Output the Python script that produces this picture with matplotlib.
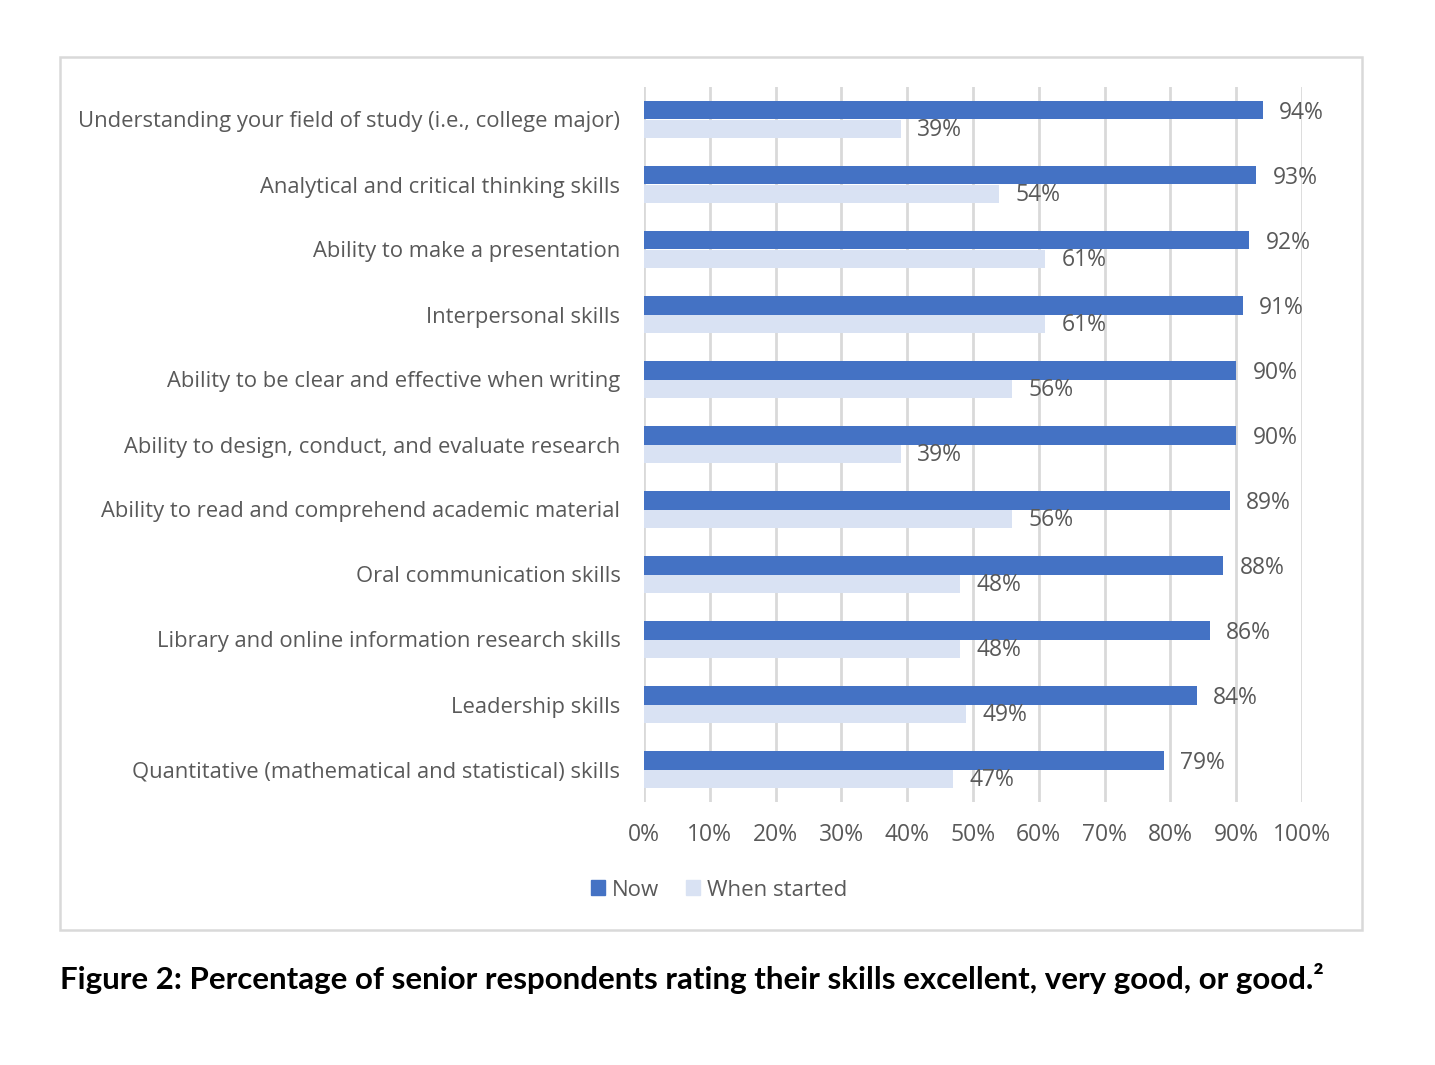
import matplotlib
matplotlib.use("Agg")
import matplotlib.pyplot as plt
from matplotlib.patches import Rectangle, Patch

# data, top to bottom as in the chart
skills = [
    "Understanding your field of study (i.e., college major)",
    "Analytical and critical thinking skills",
    "Ability to make a presentation",
    "Interpersonal skills",
    "Ability to be clear and effective when writing",
    "Ability to design, conduct, and evaluate research",
    "Ability to read and comprehend academic material",
    "Oral communication skills",
    "Library and online information research skills",
    "Leadership skills",
    "Quantitative (mathematical and statistical) skills",
]
now = [94, 93, 92, 91, 90, 90, 89, 88, 86, 84, 79]
when_started = [39, 54, 61, 61, 56, 39, 56, 48, 48, 49, 47]
x_ticks = [0, 10, 20, 30, 40, 50, 60, 70, 80, 90, 100]

NOW_COLOR = "#4472C4"
START_COLOR = "#D9E2F3"
TEXT_COLOR = "#595959"
GRID_COLOR = "#D9D9D9"

plt.rcParams["font.family"] = ["Open Sans", "DejaVu Sans"]

W, H = 1435, 1065
fig = plt.figure(figsize=(W / 100, H / 100), dpi=100)

# light grey frame round the chart area
fig.patches.append(Rectangle((60 / W, 1 - 930 / H), (1362 - 60) / W, (930 - 57) / H,
                             transform=fig.transFigure, fill=False,
                             edgecolor=GRID_COLOR, linewidth=1.8))

ax = fig.add_axes([644 / W, 1 - 802 / H, (1302 - 644) / W, (802 - 87) / H])

bh = 0.29
ypos = list(range(len(skills)))
ax.barh([y - bh / 2 for y in ypos], now, height=bh, color=NOW_COLOR, label="Now", zorder=3)
ax.barh([y + bh / 2 for y in ypos], when_started, height=bh, color=START_COLOR,
        label="When started", zorder=3)

# value labels just past the bar ends
for y, v in zip(ypos, now):
    ax.text(v + 2.5, y - bh / 2 + 0.04, f"{v}%", va="center", ha="left",
            fontsize=16.5, color=TEXT_COLOR)
for y, v in zip(ypos, when_started):
    ax.text(v + 2.5, y + bh / 2 + 0.02, f"{v}%", va="center", ha="left",
            fontsize=16.5, color=TEXT_COLOR)

ax.set_xlim(0, 100)
ax.set_ylim(len(skills) - 0.5, -0.5)
ax.set_xticks(x_ticks)
ax.set_xticklabels([f"{t}%" for t in x_ticks])
ax.set_yticks(ypos)
ax.set_yticklabels(skills)
ax.tick_params(axis="x", length=0, labelsize=16.5, labelcolor=TEXT_COLOR, pad=15)
ax.tick_params(axis="y", length=0, labelsize=15.8, labelcolor=TEXT_COLOR, pad=17)
ax.xaxis.grid(True, color=GRID_COLOR, linewidth=2)
ax.set_axisbelow(True)
for s in ax.spines.values():
    s.set_visible(False)

handles = [Patch(color=NOW_COLOR, label="Now"), Patch(color=START_COLOR, label="When started")]
fig.legend(handles=handles, loc="center", bbox_to_anchor=(719 / W, 1 - 890 / H),
           ncol=2, frameon=False, fontsize=16, labelcolor=TEXT_COLOR,
           handlelength=0.65, handleheight=0.65, handletextpad=0.3, columnspacing=1.2)

fig.text(60 / W, 1 - 978 / H,
         "Figure 2: Percentage of senior respondents rating their skills excellent, very good, or good.\u00b2",
         ha="left", va="center", fontsize=22.5, fontweight="bold", color="black",
         family=["Lato", "DejaVu Sans"])

fig.savefig("out.png", dpi=100, facecolor="white")
